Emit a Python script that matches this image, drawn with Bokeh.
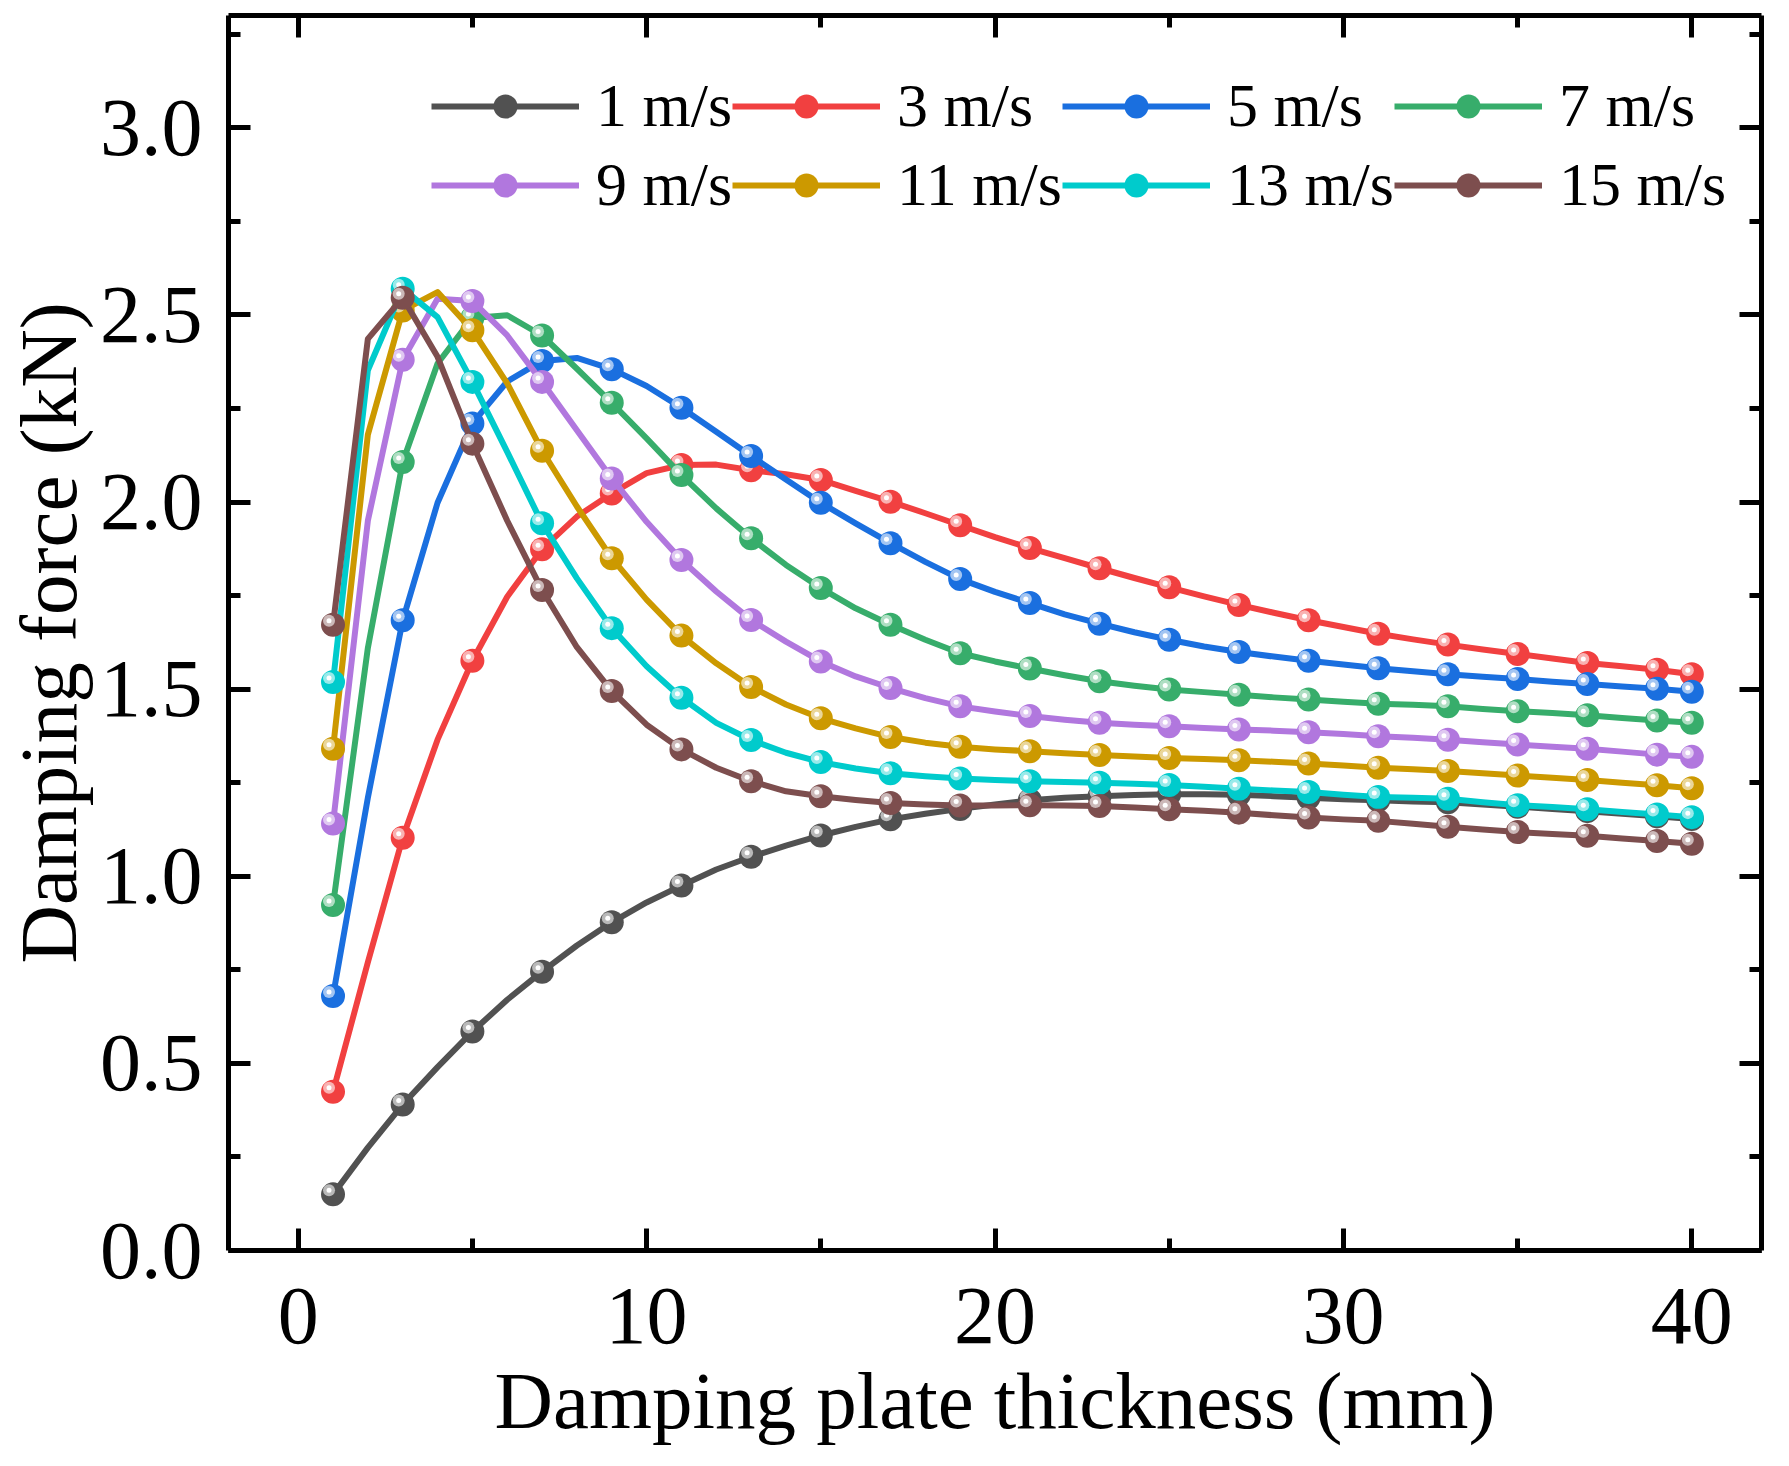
from bokeh.plotting import figure
from bokeh.models import (Range1d, LinearAxis, SingleIntervalTicker, NumeralTickFormatter,
                          Legend, LegendItem, ColumnDataSource, CustomLabelingPolicy)
from bokeh.embed import file_html
from bokeh.resources import INLINE

thickness = list(range(1, 41))
marker_thickness = list(range(1, 40, 2)) + [40]
labels = ["1 m/s", "3 m/s", "5 m/s", "7 m/s", "9 m/s", "11 m/s", "13 m/s", "15 m/s"]
colors = ["#515151", "#F14040", "#1A6FDF", "#37AD6B", "#B177DE", "#CC9900", "#00CBCC", "#7D4E4E"]

v1 = [0.150,0.275,0.390,0.490,0.585,0.670,0.745,0.815,0.877,0.930,0.975,1.018,1.052,1.082,1.109,1.132,1.152,1.167,1.180,1.192,
      1.203,1.210,1.214,1.217,1.219,1.219,1.218,1.214,1.210,1.206,1.203,1.200,1.198,1.192,1.186,1.180,1.174,1.167,1.160,1.153]
v3 = [0.424,0.770,1.103,1.365,1.576,1.747,1.874,1.961,2.023,2.077,2.099,2.100,2.085,2.074,2.059,2.030,2.001,1.970,1.938,1.906,
      1.877,1.850,1.823,1.797,1.772,1.748,1.725,1.704,1.684,1.666,1.648,1.633,1.619,1.606,1.594,1.582,1.570,1.561,1.552,1.540]
v5 = [0.680,1.210,1.684,1.998,2.210,2.322,2.377,2.385,2.355,2.310,2.252,2.188,2.123,2.060,1.998,1.943,1.890,1.840,1.794,1.760,
      1.730,1.700,1.675,1.652,1.632,1.614,1.599,1.587,1.576,1.566,1.556,1.548,1.540,1.533,1.527,1.520,1.514,1.507,1.501,1.493]
v7 = [0.923,1.610,2.107,2.370,2.492,2.499,2.445,2.356,2.265,2.170,2.072,1.983,1.903,1.832,1.770,1.716,1.672,1.632,1.596,1.574,
      1.555,1.537,1.521,1.509,1.499,1.492,1.485,1.478,1.472,1.466,1.461,1.458,1.454,1.447,1.441,1.436,1.430,1.423,1.416,1.410]
v9 = [1.141,1.950,2.380,2.543,2.537,2.445,2.321,2.192,2.063,1.947,1.845,1.761,1.685,1.627,1.574,1.534,1.503,1.476,1.454,1.440,
      1.428,1.418,1.410,1.405,1.401,1.396,1.392,1.389,1.385,1.380,1.374,1.370,1.365,1.358,1.352,1.346,1.341,1.333,1.325,1.319]
v11 = [1.341,2.180,2.512,2.561,2.459,2.317,2.137,1.988,1.850,1.739,1.643,1.569,1.506,1.459,1.422,1.395,1.372,1.357,1.346,1.339,
       1.334,1.329,1.324,1.320,1.316,1.313,1.310,1.306,1.301,1.296,1.290,1.286,1.281,1.275,1.269,1.263,1.257,1.250,1.243,1.235]
v13 = [1.519,2.352,2.570,2.494,2.321,2.134,1.943,1.796,1.663,1.561,1.477,1.410,1.364,1.330,1.305,1.288,1.275,1.267,1.261,1.257,
       1.254,1.252,1.250,1.247,1.244,1.239,1.234,1.229,1.225,1.218,1.212,1.210,1.207,1.198,1.190,1.185,1.179,1.172,1.165,1.158]
v15 = [1.672,2.436,2.546,2.388,2.156,1.950,1.765,1.612,1.495,1.405,1.339,1.290,1.254,1.227,1.214,1.204,1.196,1.192,1.189,1.189,
       1.190,1.189,1.188,1.184,1.179,1.175,1.170,1.163,1.157,1.152,1.148,1.140,1.132,1.125,1.118,1.113,1.108,1.101,1.094,1.087]
series = [v1, v3, v5, v7, v9, v11, v13, v15]

X0, X1 = -2, 42
Y0, Y1 = 0, 3.3
FW, FH = 1533, 1235
FONT = "Liberation Serif"

p = figure(x_range=Range1d(X0, X1), y_range=Range1d(Y0, Y1),
           frame_width=FW, frame_height=FH,
           min_border_left=222, min_border_top=15, min_border_right=10, min_border_bottom=180,
           output_backend="svg", toolbar_location=None)
p.outline_line_color = None
p.xgrid.visible = False
p.ygrid.visible = False
p.background_fill_color = "white"
p.border_fill_color = "white"

# shifted ranges for the highlight of the ball markers (a few pixels up-left)
sx = 4 * (X1 - X0) / FW
sy = 4 * (Y1 - Y0) / FH
p.extra_x_ranges = {"hl": Range1d(X0 + sx, X1 + sx)}
p.extra_y_ranges = {"hl": Range1d(Y0 - sy, Y1 - sy)}

def style_axis(ax, ticker, labels_visible=True):
    ax.ticker = ticker
    ax.axis_line_width = 5
    ax.axis_line_color = "black"
    ax.major_tick_line_width = 5
    ax.minor_tick_line_width = 5
    ax.major_tick_in = 22
    ax.major_tick_out = 0
    ax.minor_tick_in = 12
    ax.minor_tick_out = 0
    ax.major_label_text_font = FONT
    ax.major_label_text_color = "black"
    ax.axis_label_text_font = FONT
    ax.axis_label_text_font_style = "normal"
    ax.axis_label_text_color = "black"
    if not labels_visible:
        ax.major_label_policy = CustomLabelingPolicy(
            code="const all = Array.from(indices); for (const i of all) { indices.unset(i) } return indices")
        ax.major_label_standoff = 0

xt = SingleIntervalTicker(interval=10, num_minor_ticks=2)
yt = SingleIntervalTicker(interval=0.5, num_minor_ticks=2)

xa = p.xaxis[0]
style_axis(xa, xt)
xa.major_label_text_font_size = "82px"
xa.major_label_standoff = 38
xa.axis_label = "Damping plate thickness (mm)"
xa.axis_label_text_font_size = "81px"
xa.axis_label_standoff = 10

ya = p.yaxis[0]
style_axis(ya, yt)
ya.formatter = NumeralTickFormatter(format="0.0")
ya.major_label_text_font_size = "82px"
ya.major_label_standoff = 26
ya.axis_label = "Damping force (kN)"
ya.axis_label_text_font_size = "81px"
ya.axis_label_standoff = 3

top = LinearAxis()
style_axis(top, SingleIntervalTicker(interval=10, num_minor_ticks=2), labels_visible=False)
p.add_layout(top, "above")
right = LinearAxis()
style_axis(right, SingleIntervalTicker(interval=0.5, num_minor_ticks=2), labels_visible=False)
p.add_layout(right, "right")

def lighten(hexc, f):
    h = hexc.lstrip("#")
    r, g, b = int(h[0:2], 16), int(h[2:4], 16), int(h[4:6], 16)
    r = int(r + (255 - r) * f); g = int(g + (255 - g) * f); b = int(b + (255 - b) * f)
    return "#%02x%02x%02x" % (r, g, b)

items = []
for lab, col, vals in zip(labels, colors, series):
    line_src = ColumnDataSource(dict(x=thickness, y=vals))
    mk_y = [vals[thickness.index(t)] for t in marker_thickness]
    mk_src = ColumnDataSource(dict(x=marker_thickness, y=mk_y))
    ln = p.line("x", "y", source=line_src, line_color=col, line_width=6, line_join="round")
    ball = p.scatter("x", "y", source=mk_src, marker="circle", size=24,
                     fill_color=col, line_color=None)
    hl = p.scatter("x", "y", source=mk_src, marker="circle", size=12,
                   fill_color=lighten(col, 0.6), line_color=None,
                   x_range_name="hl", y_range_name="hl")
    dot = p.scatter("x", "y", source=mk_src, marker="circle", size=5,
                    fill_color="white", line_color=None,
                    x_range_name="hl", y_range_name="hl")
    items.append(LegendItem(label=lab, renderers=[ln, ball]))

legend = Legend(items=items, orientation="horizontal", ncols=4,
                location=(203, FH - 51 - 158),
                label_text_font=FONT, label_text_font_size="62px",
                label_text_color="black",
                glyph_width=148, glyph_height=60, label_height=79,
                label_standoff=17, spacing=0, padding=0, margin=0,
                border_line_color=None, background_fill_alpha=0)
p.add_layout(legend)

open("out.html", "w").write(file_html(p, INLINE))
